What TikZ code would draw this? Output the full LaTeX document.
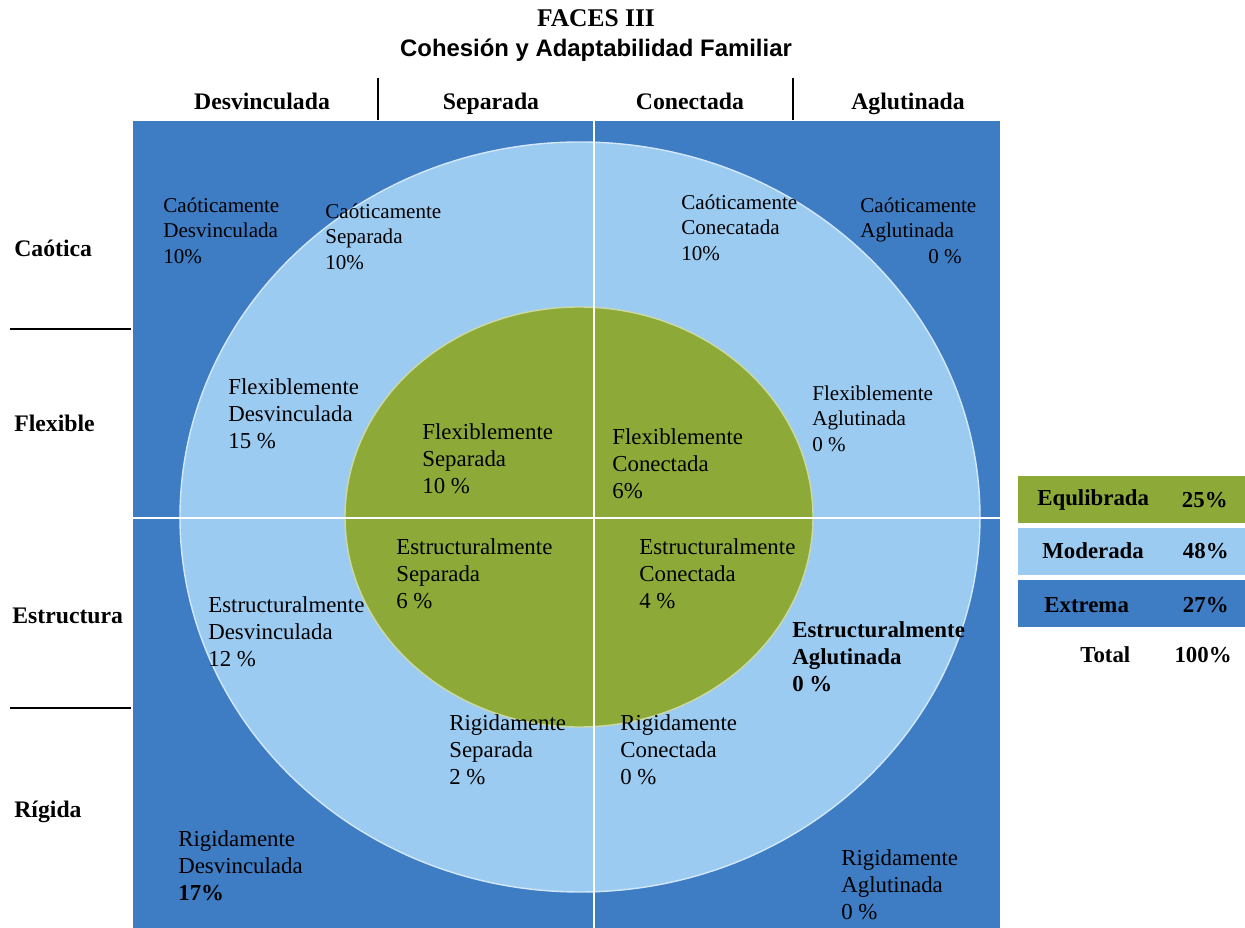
\documentclass[tikz,border=0pt]{standalone}
\usepackage{fontspec}
\setmainfont{Liberation Serif}
\newfontfamily\headsans{Liberation Sans}
\usepackage{xcolor}
\definecolor{fdark}{HTML}{3E7CC4}
\definecolor{flight}{HTML}{9CCBF2}
\definecolor{fgreen}{HTML}{8DAA38}

\begin{document}
\begin{tikzpicture}[x=0.02cm, y=-0.02cm,
		cell/.style={anchor=north west, inner sep=0pt, align=left, font=\fontsize{13}{15.5}\selectfont},
		smallcell/.style={cell, font=\fontsize{12}{14.5}\selectfont},
		boldcell/.style={cell, font=\fontsize{13}{15.5}\selectfont\bfseries},
		axislabel/.style={inner sep=0pt, font=\fontsize{13.5}{16}\selectfont\bfseries},
		legendtext/.style={inner sep=0pt, font=\fontsize{13}{16}\selectfont\bfseries}]
		\useasboundingbox (0,0) rectangle (1245,928);
		\fill[fdark] (133,121) rectangle (1000,928);
		\draw[fill=flight, draw=white!55!flight, line width=0.8pt] (580,517) ellipse (400 and 375);
		\draw[fill=fgreen, draw=white!55!fgreen, line width=0.8pt] (579,517) ellipse (234 and 210);
		\draw[white, line width=1.2pt] (594,121) -- (594,928);
		\draw[white, line width=1.2pt] (133,518) -- (1000,518);
		\draw[black, line width=0.7pt] (378,78) -- (378,120);
		\draw[black, line width=0.7pt] (793,78) -- (793,120);
		\draw[black, line width=0.8pt] (10,329) -- (131,329);
		\draw[black, line width=0.8pt] (10,708) -- (131,708);
		\node[inner sep=0pt, font=\fontsize{14.5}{17}\selectfont\bfseries] (title) at (596,18) {FACES III};
		\node[inner sep=0pt, font=\headsans\fontsize{13.6}{16}\selectfont\bfseries] (subtitle) at (596,50) {Cohesión y Adaptabilidad Familiar};
		\node[axislabel, anchor=base] (desv) at (262,110) {Desvinculada};
		\node[axislabel, anchor=base] (sepa) at (491,110) {Separada};
		\node[axislabel, anchor=base] (cone) at (690,110) {Conectada};
		\node[axislabel, anchor=base] (aglu) at (908,110) {Aglutinada};
		\node[axislabel, anchor=west] (caot) at (14,248) {Caótica};
		\node[axislabel, anchor=west] (flex) at (14,423) {Flexible};
		\node[axislabel, anchor=west] (estr) at (12,616) {Estructura};
		\node[axislabel, anchor=west] (rigi) at (14,812) {Rígida};
		\node[smallcell] (cd) at (163,194) {\strut Caóticamente\\Desvinculada\\10\%};
		\node[smallcell] (cs) at (325,200) {\strut Caóticamente\\Separada\\10\%};
		\node[smallcell] (cc) at (681,191) {\strut Caóticamente\\Conecatada\\10\%};
		\node[smallcell] (ca) at (860,194) {\strut Caóticamente\\Aglutinada\\\hspace*{1.36cm}0 \%};
		\node[cell] (fd) at (228,375) {\strut Flexiblemente\\Desvinculada\\15 \%};
		\node[cell] (fs) at (422,420) {\strut Flexiblemente\\Separada\\10 \%};
		\node[cell] (fc) at (612,425) {\strut Flexiblemente\\Conectada\\6\%};
		\node[smallcell] (fa) at (812,382) {\strut Flexiblemente\\Aglutinada\\0 \%};
		\node[cell] (es) at (396,535) {\strut Estructuralmente\\Separada\\6 \%};
		\node[cell] (ec) at (639,535) {\strut Estructuralmente\\Conectada\\4 \%};
		\node[cell] (ed) at (208,593) {\strut Estructuralmente\\Desvinculada\\12 \%};
		\node[boldcell] (ea) at (792,618) {\strut Estructuralmente\\Aglutinada\\0 \%};
		\node[cell] (rs) at (449,711) {\strut Rigidamente\\Separada\\2 \%};
		\node[cell] (rc) at (620,711) {\strut Rigidamente\\Conectada\\0 \%};
		\node[cell] (rd) at (178,827) {\strut Rigidamente\\Desvinculada\\\textbf{17\%}};
		\node[cell] (ra) at (841,846) {\strut Rigidamente\\Aglutinada\\0 \%};
		\fill[fgreen] (1018,476) rectangle (1245,523);
		\fill[flight] (1018,528) rectangle (1245,575);
		\fill[fdark] (1018,580) rectangle (1245,627);
		\node[legendtext, anchor=west] (equi) at (1037,500) {Equlibrada};
		\node[legendtext, anchor=east] (equip) at (1228,500) {25\%};
		\node[legendtext, anchor=west] (mode) at (1042,551) {Moderada};
		\node[legendtext, anchor=east] (modep) at (1229,551) {48\%};
		\node[legendtext, anchor=west] (extr) at (1044,605) {Extrema};
		\node[legendtext, anchor=east] (extrp) at (1229,605) {27\%};
		\node[legendtext, anchor=west] (tot) at (1080,655) {Total};
		\node[legendtext, anchor=east] (totp) at (1232,655) {100\%};
	\end{tikzpicture}
\end{document}
